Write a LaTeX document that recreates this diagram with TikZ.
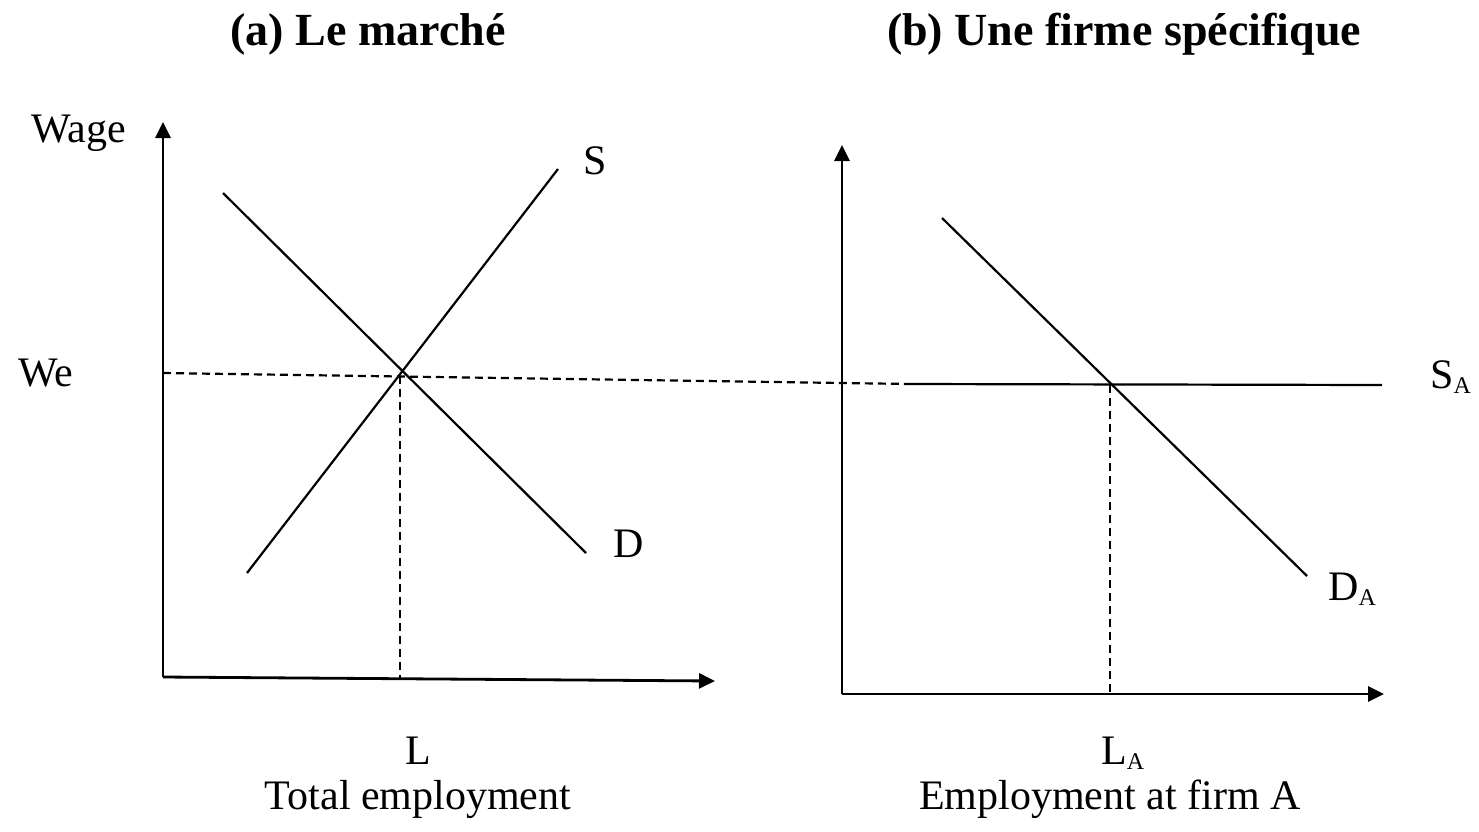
\documentclass[tikz,border=0pt]{standalone}
\usepackage{fontspec}
\setmainfont{Liberation Serif}
\usetikzlibrary{arrows.meta}
\newcommand{\subA}{\raisebox{-5pt}{\fontsize{24}{24}\selectfont A}}
\begin{document}
\begin{tikzpicture}[x=1pt,y=-1pt,
  axis/.style={line width=2.8pt,-{Triangle[length=16pt,width=15pt]}},
  curve/.style={line width=2.2pt},
  guide/.style={line width=2.2pt,dash pattern=on 8pt off 5pt},
  lbl/.style={font=\fontsize{42}{50}\selectfont,inner sep=0pt,anchor=base west},
  clbl/.style={font=\fontsize{42}{50}\selectfont,inner sep=0pt,anchor=base},
  ttl/.style={font=\fontsize{46}{55}\selectfont\bfseries,inner sep=0pt,anchor=base}]
\useasboundingbox (0,0) rectangle (1479,831);

% titles
\node[ttl] (ta) at (368,45) {(a) Le marché};
\node[ttl] (tb) at (1124,45) {(b) Une firme spécifique};

% ---- panel (a)
\coordinate (oA) at (163,677);
\coordinate (yA) at (163,122);
\coordinate (xA) at (715,681);
\draw[axis] (oA) -- (yA);
\draw[axis] (oA) -- (xA);
\coordinate (s1) at (247,573);
\coordinate (s2) at (558,169);
\coordinate (d1) at (223,193);
\coordinate (d2) at (586,553);
\draw[curve] (s1) -- (s2);
\draw[curve] (d1) -- (d2);
\coordinate (wA) at (163,373);
\coordinate (gB) at (910,384);
\coordinate (eA) at (400,376);
\coordinate (lA) at (400,679);
\draw[guide] (wA) -- (gB);
\draw[guide] (eA) -- (lA);

\node[lbl] (wage) at (31,142) {Wage};
\node[lbl] (we) at (18,386) {We};
\node[lbl] (sl) at (583,174) {S};
\node[lbl] (dl) at (613,557) {D};
\node[clbl] (ll) at (418,764) {L};
\node[clbl] (te) at (418,809) {Total employment};

% ---- panel (b)
\coordinate (oB) at (842,694);
\coordinate (yB) at (842,145);
\coordinate (xB) at (1384,694);
\draw[axis] (oB) -- (yB);
\draw[axis] (oB) -- (xB);
\coordinate (sa2) at (1382,385);
\draw[curve] (gB) -- (sa2);
\coordinate (da1) at (942,218);
\coordinate (da2) at (1307,576);
\draw[curve] (da1) -- (da2);
\coordinate (eB) at (1110,385);
\coordinate (lB) at (1110,694);
\draw[guide] (eB) -- (lB);

\node[lbl] (sal) at (1430,388) {S\subA};
\node[lbl] (dal) at (1328,600) {D\subA};
\node[lbl] (lal) at (1101,764) {L\subA};
\node[clbl] (ef) at (1110,809) {Employment at firm A};
\end{tikzpicture}
\end{document}
